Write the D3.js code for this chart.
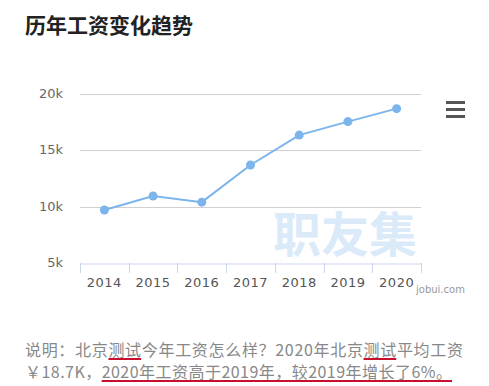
<!DOCTYPE html>
<html>
<head>
<meta charset="utf-8">
<script src="https://cdn.jsdelivr.net/npm/d3@7"></script>
<style>
  body { margin: 0; background: #fff; }
  svg { display: block; }
</style>
</head>
<body>
<svg id="chart" width="489" height="386"></svg>
<script>
const years = ["2014", "2015", "2016", "2017", "2018", "2019", "2020"];
const salary = [9.7, 10.95, 10.4, 13.7, 16.35, 17.55, 18.7]; // 单位 k
const yTicks = [5, 10, 15, 20];

const title = "历年工资变化趋势";
const noteLines = [
  [["说明：北京", false], ["测试", true], ["今年工资怎么样？2020年北京", false], ["测试", true], ["平均工资", false]],
  [["￥18.7K，", false], ["2020年工资高于2019年，较2019年增长了6%。", true]]
];

const cjk = "'Microsoft YaHei','Noto Sans CJK SC',sans-serif";
const svg = d3.select("#chart");

svg.append("text")
  .attr("x", 25).attr("y", 33)
  .attr("font-family", cjk)
  .attr("font-size", 21)
  .attr("font-weight", "bold")
  .attr("fill", "#222")
  .text(title);

const plotL = 80, plotR = 421, plotT = 94, plotB = 263;

const x = d3.scaleBand().domain(years).range([plotL, plotR]);
const y = d3.scaleLinear().domain([5, 20]).range([plotB, plotT]);

// watermark
svg.append("text")
  .attr("x", 345).attr("y", 252)
  .attr("text-anchor", "middle")
  .attr("font-family", cjk)
  .attr("font-size", 48)
  .attr("font-weight", "bold")
  .attr("fill", "#dbeaf9")
  .text("职友集");

// grid
svg.append("g").selectAll("line")
  .data(yTicks.filter(d => d > 5))
  .join("line")
  .attr("x1", plotL).attr("x2", plotR)
  .attr("y1", d => Math.round(y(d)) + 0.5)
  .attr("y2", d => Math.round(y(d)) + 0.5)
  .attr("stroke", "#d0d0d0");

// y labels
svg.append("g").selectAll("text")
  .data(yTicks)
  .join("text")
  .attr("x", 63)
  .attr("y", d => y(d) + 4)
  .attr("text-anchor", "end")
  .attr("font-family", "DejaVu Sans, sans-serif")
  .attr("font-size", 13)
  .attr("fill", "#666")
  .text(d => d + "k");

// x axis
const xAxis = svg.append("g")
  .attr("transform", `translate(0,${Math.round(plotB) + 0.5})`)
  .call(d3.axisBottom(x).tickSize(0).tickPadding(14));
xAxis.select(".domain").attr("stroke", "#ccd6eb");
xAxis.selectAll(".tick text")
  .attr("font-family", "DejaVu Sans, sans-serif")
  .attr("font-size", 13)
  .attr("fill", "#555")
  .attr("letter-spacing", 0.5);

const bounds = years.map(d => x(d)).concat([plotR]);
svg.append("g").selectAll("line")
  .data(bounds)
  .join("line")
  .attr("x1", d => Math.round(d) + 0.5).attr("x2", d => Math.round(d) + 0.5)
  .attr("y1", plotB).attr("y2", plotB + 10)
  .attr("stroke", "#ccd6eb");

svg.append("text")
  .attr("x", 416).attr("y", 293)
  .attr("font-family", "DejaVu Sans, sans-serif")
  .attr("font-size", 10)
  .attr("fill", "#999")
  .text("jobui.com");

// series
const cx = d => x(d) + x.bandwidth() / 2;
const line = d3.line().x((d, i) => cx(years[i])).y(d => y(d));
svg.append("path")
  .datum(salary)
  .attr("d", line)
  .attr("fill", "none")
  .attr("stroke", "#7cb5ec")
  .attr("stroke-width", 2);

svg.append("g").selectAll("circle")
  .data(salary)
  .join("circle")
  .attr("cx", (d, i) => cx(years[i]))
  .attr("cy", d => y(d))
  .attr("r", 4.5)
  .attr("fill", "#7cb5ec");

// menu icon
svg.append("g").selectAll("line")
  .data([0, 1, 2])
  .join("line")
  .attr("x1", 446).attr("x2", 465)
  .attr("y1", d => 102.5 + d * 7).attr("y2", d => 102.5 + d * 7)
  .attr("stroke", "#555").attr("stroke-width", 3);

// note
const noteY = [356, 378];
const noteW = [438, 427];
noteLines.forEach((segs, li) => {
  const t = svg.append("text")
    .attr("x", 25).attr("y", noteY[li])
    .attr("font-family", cjk)
    .attr("font-size", 16)
    .attr("fill", "#888")
    .attr("textLength", noteW[li])
    .attr("lengthAdjust", "spacing");
  segs.forEach(s => t.append("tspan").text(s[0]));
  let pos = 0;
  segs.forEach(s => {
    const n = s[0].length;
    if (s[1]) {
      const node = t.node();
      const a = node.getStartPositionOfChar(pos).x;
      const e = node.getEndPositionOfChar(pos + n - 1).x;
      svg.append("line")
        .attr("x1", a).attr("x2", e)
        .attr("y1", noteY[li] + 3).attr("y2", noteY[li] + 3)
        .attr("stroke", "#c8102e").attr("stroke-width", 2);
    }
    pos += n;
  });
});
</script>
</body>
</html>
